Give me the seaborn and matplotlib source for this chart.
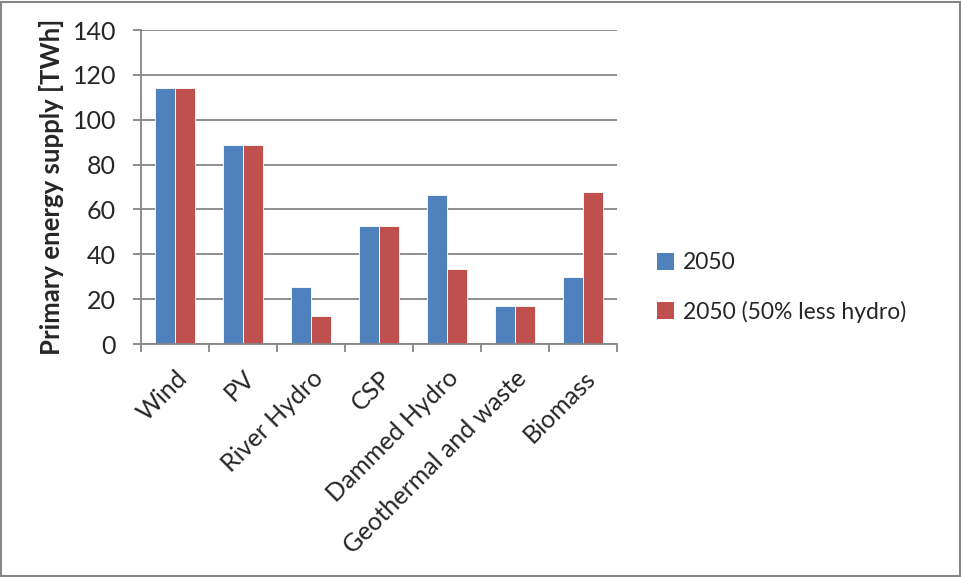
import matplotlib
matplotlib.use("Agg")
import matplotlib.pyplot as plt
import seaborn as sns
import pandas as pd
import numpy as np
from matplotlib.patches import Rectangle

categories = ["Wind", "PV", "River Hydro", "CSP", "Dammed Hydro", "Geothermal and waste", "Biomass"]
series_names = ["2050", "2050 (50% less hydro)"]
values_2050 = [114.3, 88.6, 25.3, 52.7, 66.4, 16.8, 29.7]
values_less_hydro = [114.3, 88.6, 12.6, 52.7, 33.3, 16.8, 67.9]
yticks = [0, 20, 40, 60, 80, 100, 120, 140]
colors = ["#4F81BD", "#C0504D"]

df = pd.DataFrame({
    "category": categories * 2,
    "value": values_2050 + values_less_hydro,
    "series": [series_names[0]] * len(categories) + [series_names[1]] * len(categories),
})

sns.set_style("white")
plt.rcParams["font.family"] = ["Lato", "DejaVu Sans"]
grid_c = "#868686"

fig = plt.figure(figsize=(9.62, 5.77), dpi=100)
ax = fig.add_axes([141/962, 1 - 344/577, (617-141)/962, (344-30)/577])

sns.barplot(data=df, x="category", y="value", hue="series", palette=colors,
            order=categories, hue_order=series_names, width=0.59, ax=ax,
            edgecolor="white", linewidth=0.6, saturation=1, legend=True)

ax.set_ylim(0, 140)
ax.set_xlim(-0.5, len(categories) - 0.5)
ax.set_yticks(yticks)
ax.set_yticklabels([str(t) for t in yticks], fontsize=18)
ax.yaxis.grid(True, color=grid_c, linewidth=1.3)
ax.set_axisbelow(True)
for s in ["top", "right"]:
    ax.spines[s].set_visible(False)
for s in ["left", "bottom"]:
    ax.spines[s].set_color(grid_c)
    ax.spines[s].set_linewidth(1.3)
ax.tick_params(axis="y", direction="out", length=6, width=1.3, color=grid_c, left=True, pad=12)

# x ticks: labels at centres, tick marks at boundaries
ax.set_xticks(range(len(categories)))
ax.set_xticklabels(categories, rotation=45, ha="right", va="top", rotation_mode="anchor", fontsize=18)
ax.tick_params(axis="x", which="major", length=0, pad=16)
ax.set_xticks(np.arange(-0.5, len(categories), 1), minor=True)
ax.tick_params(axis="x", which="minor", direction="out", length=6, width=1.3, color=grid_c, bottom=True)

ax.set_xlabel("")
ax.set_ylabel("Primary energy supply [TWh]", fontsize=18.5, fontweight="bold", labelpad=6)

leg = ax.legend(loc="center left", bbox_to_anchor=(1.04, 0.18), frameon=False, fontsize=16.5,
                handlelength=0.75, handleheight=0.75, handletextpad=0.4, labelspacing=1.2)
for h in leg.legend_handles:
    h.set_edgecolor("none")

fig.patches.append(Rectangle((0.001, 0.002), 0.997, 0.995, transform=fig.transFigure,
                             fill=False, edgecolor=grid_c, linewidth=1.5))

fig.savefig("out.png", dpi=100)
